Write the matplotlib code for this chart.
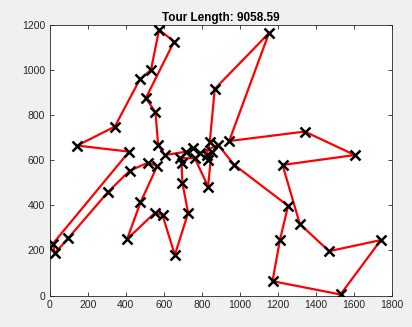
import numpy as np
import matplotlib
matplotlib.use("Agg")
import matplotlib.pyplot as plt

# city coordinates, listed in tour order
tour_x = [575, 532, 474, 342, 144, 417, 16, 26, 96, 307, 421, 517, 565, 477, 407,
          553, 593, 658, 728, 698, 693, 684, 763, 833, 851, 833, 825, 842, 868, 1153,
          944, 1342, 1605, 1225, 1316, 1470, 1742, 1530, 1172, 1211, 1254, 970, 886,
          789, 754, 719, 605, 570, 556, 505, 654]
tour_y = [1178, 1000, 959, 749, 665, 638, 230, 187, 254, 460, 554, 589, 574, 413, 251,
          367, 357, 180, 367, 498, 587, 609, 609, 483, 638, 601, 623, 682, 916, 1163,
          685, 727, 623, 579, 317, 197, 246, 5, 64, 246, 398, 580, 668,
          631, 653, 638, 623, 668, 813, 875, 1126]
tour_length = 9058.59

plt.rcParams["font.family"] = ["Liberation Sans", "DejaVu Sans"]

fig = plt.figure(figsize=(4.12, 3.27), dpi=100, facecolor="#f0f0f0")
ax = fig.add_axes([0.121, 0.096, 0.830, 0.828])

px = tour_x + tour_x[:1]
py = tour_y + tour_y[:1]
ax.plot(px, py, color="#ff0000", lw=1.6, zorder=2)
ax.plot(tour_x, tour_y, ls="none", marker="x", ms=6.5, mew=1.8, color="black", zorder=3)

ax.set_xlim(0, 1800)
ax.set_ylim(0, 1200)
ax.set_xticks(np.arange(0, 1801, 200))
ax.set_yticks(np.arange(0, 1201, 200))
ax.tick_params(direction="in", length=3, width=0.6, labelsize=7.5,
               colors="#262626", top=True, right=True, labeltop=False, labelright=False)
for s in ax.spines.values():
    s.set_color("#262626")
    s.set_linewidth(0.6)
ax.set_title(f"Tour Length: {tour_length:.2f}", fontsize=8.5, fontweight="bold", pad=3)

fig.savefig("out.png", dpi=100, facecolor=fig.get_facecolor())
